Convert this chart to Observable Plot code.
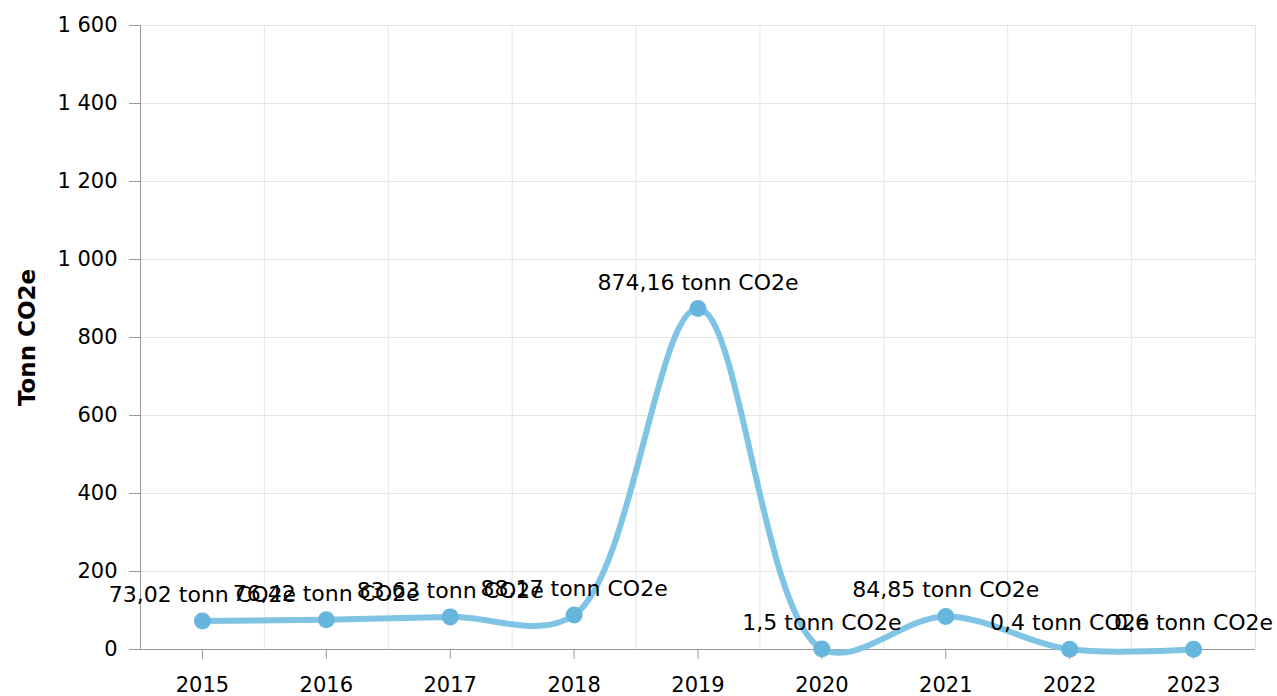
<!DOCTYPE html>
<html><head><meta charset="utf-8">
<script src="https://cdn.jsdelivr.net/npm/d3@7"></script>
<script src="https://cdn.jsdelivr.net/npm/@observablehq/plot@0.6"></script>
<style>body{margin:0;background:#fff}</style>
</head><body><div id="chart"></div>
<script>
const years = [2015, 2016, 2017, 2018, 2019, 2020, 2021, 2022, 2023];
const values = [73.02, 76.42, 83.63, 88.17, 874.16, 1.5, 84.85, 0.4, 0.6];
const unit = "tonn CO2e";
const yTicks = [0, 200, 400, 600, 800, 1000, 1200, 1400, 1600];
const yLabel = "Tonn CO2e";

const data = years.map((year, i) => ({
  year, value: values[i],
  label: String(values[i]).replace(".", ",") + " " + unit
}));
const xBounds = years.map(y => y - 0.5).concat([years[years.length - 1] + 0.5]);
const fmt = d => d3.format(",")(d).replace(/,/g, " ");

const chart = Plot.plot({
  width: 1277, height: 696,
  marginLeft: 140, marginRight: 22, marginTop: 25, marginBottom: 47,
  style: {fontFamily: "DejaVu Sans, Verdana, sans-serif", fontSize: "22px", color: "#000", background: "#fff"},
  x: {domain: [xBounds[0], xBounds[xBounds.length - 1]]},
  y: {domain: [yTicks[0], yTicks[yTicks.length - 1]]},
  marks: [
    Plot.ruleX(xBounds, {stroke: "#e6e6e6", strokeWidth: 1}),
    Plot.ruleY(yTicks.slice(1), {stroke: "#e6e6e6", strokeWidth: 1}),
    Plot.ruleX([xBounds[0]], {stroke: "#999", strokeWidth: 1}),
    Plot.ruleY([yTicks[0]], {stroke: "#999", strokeWidth: 1}),
    Plot.axisX({ticks: years, tickFormat: d => String(d), tickSize: 10, tickPadding: 18, stroke: "#999", strokeOpacity: 1, fill: "#000", fontSize: 21, label: null}),
    Plot.axisY({ticks: yTicks, tickFormat: fmt, tickSize: 11, tickPadding: 12, stroke: "#999", strokeOpacity: 1, fill: "#000", fontSize: 21, label: null}),
    Plot.text([yLabel], {frameAnchor: "left", textAnchor: "middle", rotate: -90, dx: -113, text: d => d, fontWeight: "bold", fontSize: 23, fill: "#000"}),
    Plot.line(data, {x: "year", y: "value", curve: "catmull-rom", stroke: "#7fc4e4", strokeWidth: 6}),
    Plot.dot(data, {x: "year", y: "value", r: 8.5, fill: "#66b5dc", stroke: "none"}),
    Plot.text(data, {x: "year", y: "value", text: "label", dy: -26, fill: "#000", fontSize: 22})
  ]
});
document.getElementById("chart").append(chart);
</script>
</body></html>
